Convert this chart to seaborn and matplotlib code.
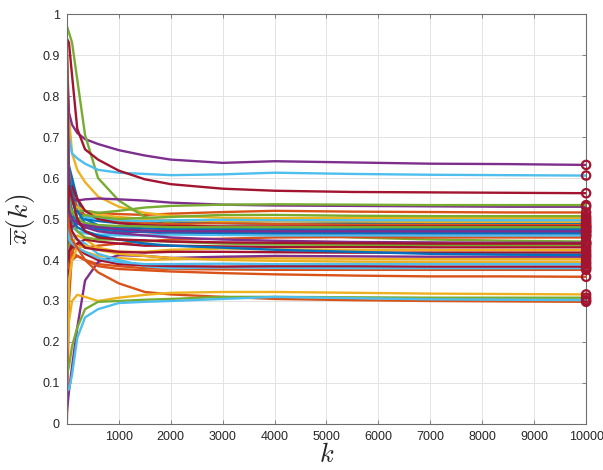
import numpy as np
import pandas as pd
import seaborn as sns
import matplotlib.pyplot as plt

k_points = [1, 40, 100, 200, 350, 600, 1000, 1500, 2000, 3000, 4000, 5500, 7000, 8500, 10000]

# one list per agent, in MATLAB colour-cycle order (blue, orange, yellow, purple, green, light blue, dark red)
agent_01 = [0.45, 0.62, 0.58, 0.52, 0.50, 0.495, 0.49, 0.488, 0.492, 0.49, 0.488, 0.49, 0.489, 0.49, 0.489]
agent_02 = [0.55, 0.58, 0.56, 0.53, 0.52, 0.515, 0.512, 0.51, 0.513, 0.517, 0.52, 0.518, 0.517, 0.516, 0.516]
agent_03 = [0.85, 0.75, 0.66, 0.62, 0.59, 0.555, 0.53, 0.515, 0.508, 0.503, 0.502, 0.503, 0.502, 0.502, 0.502]
agent_04 = [0.90, 0.76, 0.73, 0.71, 0.695, 0.683, 0.668, 0.655, 0.645, 0.637, 0.641, 0.638, 0.635, 0.634, 0.632]
agent_05 = [0.97, 0.955, 0.93, 0.84, 0.705, 0.60, 0.545, 0.505, 0.49, 0.475, 0.465, 0.455, 0.45, 0.447, 0.445]
agent_06 = [0.82, 0.70, 0.66, 0.648, 0.635, 0.62, 0.613, 0.61, 0.607, 0.609, 0.613, 0.61, 0.608, 0.607, 0.606]
agent_07 = [0.94, 0.93, 0.85, 0.72, 0.67, 0.645, 0.618, 0.597, 0.585, 0.574, 0.569, 0.566, 0.565, 0.564, 0.563]

agent_08 = [0.40, 0.63, 0.60, 0.55, 0.50, 0.485, 0.48, 0.477, 0.476, 0.478, 0.48, 0.479, 0.478, 0.478, 0.478]
agent_09 = [0.93, 0.62, 0.56, 0.52, 0.51, 0.50, 0.495, 0.49, 0.488, 0.49, 0.488, 0.486, 0.486, 0.485, 0.485]
agent_10 = [0.30, 0.45, 0.50, 0.53, 0.52, 0.51, 0.505, 0.50, 0.497, 0.495, 0.495, 0.494, 0.493, 0.493, 0.493]
agent_11 = [0.60, 0.57, 0.55, 0.545, 0.548, 0.55, 0.548, 0.545, 0.54, 0.535, 0.533, 0.532, 0.531, 0.53, 0.53]
agent_12 = [0.58, 0.56, 0.54, 0.52, 0.52, 0.515, 0.52, 0.528, 0.532, 0.535, 0.536, 0.535, 0.534, 0.534, 0.534]
agent_13 = [0.75, 0.55, 0.52, 0.50, 0.505, 0.50, 0.497, 0.495, 0.497, 0.498, 0.497, 0.497, 0.497, 0.497, 0.497]
agent_14 = [0.40, 0.55, 0.58, 0.55, 0.52, 0.50, 0.49, 0.485, 0.483, 0.482, 0.482, 0.482, 0.482, 0.482, 0.482]

agent_15 = [0.80, 0.60, 0.56, 0.50, 0.47, 0.46, 0.465, 0.47, 0.472, 0.474, 0.475, 0.474, 0.474, 0.474, 0.474]
agent_16 = [0.01, 0.30, 0.42, 0.44, 0.43, 0.435, 0.44, 0.445, 0.45, 0.452, 0.455, 0.456, 0.455, 0.455, 0.455]
agent_17 = [0.20, 0.38, 0.44, 0.46, 0.45, 0.43, 0.42, 0.42, 0.425, 0.428, 0.426, 0.425, 0.424, 0.424, 0.424]
agent_18 = [0.50, 0.48, 0.49, 0.495, 0.48, 0.475, 0.47, 0.468, 0.465, 0.462, 0.461, 0.461, 0.461, 0.461, 0.461]
agent_19 = [0.25, 0.42, 0.48, 0.50, 0.51, 0.505, 0.50, 0.503, 0.505, 0.51, 0.51, 0.508, 0.507, 0.507, 0.507]
agent_20 = [0.45, 0.50, 0.48, 0.47, 0.465, 0.462, 0.46, 0.46, 0.462, 0.461, 0.46, 0.46, 0.46, 0.46, 0.46]
agent_21 = [0.26, 0.42, 0.43, 0.44, 0.45, 0.445, 0.44, 0.435, 0.435, 0.433, 0.432, 0.432, 0.431, 0.431, 0.431]

agent_22 = [0.70, 0.55, 0.52, 0.49, 0.48, 0.475, 0.472, 0.47, 0.471, 0.47, 0.47, 0.47, 0.47, 0.47, 0.47]
agent_23 = [0.30, 0.40, 0.42, 0.41, 0.40, 0.39, 0.385, 0.38, 0.378, 0.377, 0.376, 0.376, 0.376, 0.376, 0.376]
agent_24 = [0.50, 0.46, 0.45, 0.43, 0.42, 0.41, 0.405, 0.40, 0.402, 0.405, 0.404, 0.403, 0.402, 0.402, 0.402]
agent_25 = [0.03, 0.08, 0.14, 0.235, 0.35, 0.395, 0.412, 0.41, 0.405, 0.408, 0.41, 0.409, 0.408, 0.408, 0.408]
agent_26 = [0.90, 0.55, 0.50, 0.47, 0.455, 0.45, 0.45, 0.447, 0.445, 0.44, 0.438, 0.437, 0.437, 0.437, 0.437]
agent_27 = [0.45, 0.47, 0.46, 0.45, 0.44, 0.415, 0.40, 0.385, 0.38, 0.382, 0.381, 0.38, 0.38, 0.38, 0.38]
agent_28 = [0.30, 0.42, 0.44, 0.43, 0.415, 0.40, 0.39, 0.387, 0.385, 0.384, 0.385, 0.385, 0.384, 0.384, 0.384]

agent_29 = [0.55, 0.48, 0.50, 0.52, 0.49, 0.48, 0.475, 0.47, 0.468, 0.466, 0.466, 0.466, 0.466, 0.466, 0.466]
agent_30 = [0.40, 0.38, 0.40, 0.41, 0.40, 0.385, 0.378, 0.375, 0.372, 0.368, 0.365, 0.362, 0.36, 0.36, 0.359]
agent_31 = [0.15, 0.35, 0.40, 0.43, 0.435, 0.425, 0.415, 0.41, 0.405, 0.40, 0.398, 0.396, 0.395, 0.395, 0.395]
agent_32 = [0.85, 0.50, 0.48, 0.49, 0.48, 0.47, 0.465, 0.46, 0.455, 0.45, 0.447, 0.444, 0.443, 0.442, 0.442]
agent_33 = [0.50, 0.53, 0.52, 0.50, 0.49, 0.485, 0.483, 0.482, 0.48, 0.48, 0.48, 0.48, 0.48, 0.48, 0.48]
agent_34 = [0.60, 0.45, 0.44, 0.43, 0.42, 0.405, 0.395, 0.39, 0.39, 0.391, 0.39, 0.39, 0.39, 0.39, 0.39]
agent_35 = [0.88, 0.50, 0.47, 0.45, 0.43, 0.425, 0.42, 0.418, 0.42, 0.42, 0.419, 0.418, 0.418, 0.418, 0.418]

agent_36 = [0.60, 0.52, 0.50, 0.48, 0.47, 0.46, 0.45, 0.44, 0.435, 0.43, 0.425, 0.42, 0.415, 0.413, 0.412]
agent_37 = [0.55, 0.48, 0.45, 0.43, 0.40, 0.37, 0.343, 0.322, 0.316, 0.31, 0.305, 0.302, 0.30, 0.299, 0.298]
agent_38 = [0.18, 0.25, 0.30, 0.315, 0.31, 0.30, 0.308, 0.315, 0.32, 0.322, 0.322, 0.32, 0.318, 0.317, 0.316]
agent_39 = [0.75, 0.52, 0.50, 0.49, 0.485, 0.48, 0.475, 0.472, 0.47, 0.47, 0.47, 0.47, 0.47, 0.47, 0.47]
agent_40 = [0.12, 0.14, 0.19, 0.235, 0.28, 0.298, 0.30, 0.303, 0.305, 0.31, 0.31, 0.309, 0.308, 0.308, 0.308]
agent_41 = [0.08, 0.085, 0.12, 0.21, 0.26, 0.28, 0.295, 0.298, 0.30, 0.305, 0.31, 0.307, 0.304, 0.303, 0.302]
agent_42 = [0.50, 0.58, 0.55, 0.50, 0.47, 0.455, 0.45, 0.448, 0.445, 0.443, 0.442, 0.441, 0.44, 0.44, 0.44]

agents = [agent_01, agent_02, agent_03, agent_04, agent_05, agent_06, agent_07,
          agent_08, agent_09, agent_10, agent_11, agent_12, agent_13, agent_14,
          agent_15, agent_16, agent_17, agent_18, agent_19, agent_20, agent_21,
          agent_22, agent_23, agent_24, agent_25, agent_26, agent_27, agent_28,
          agent_29, agent_30, agent_31, agent_32, agent_33, agent_34, agent_35,
          agent_36, agent_37, agent_38, agent_39, agent_40, agent_41, agent_42]

y_ticks = [0, 0.1, 0.2, 0.3, 0.4, 0.5, 0.6, 0.7, 0.8, 0.9, 1]
y_tick_labels = ['0', '0.1', '0.2', '0.3', '0.4', '0.5', '0.6', '0.7', '0.8', '0.9', '1']
x_ticks = [1000, 2000, 3000, 4000, 5000, 6000, 7000, 8000, 9000, 10000]

matlab_colors = ['#0072BD', '#D95319', '#EDB120', '#7E2F8E', '#77AC30', '#4DBEEE', '#A2142F']

rows = []
for i, vals in enumerate(agents):
    for k, v in zip(k_points, vals):
        rows.append({'k': k, 'x': v, 'agent': f'a{i:02d}'})
df = pd.DataFrame(rows)
order = [f'a{i:02d}' for i in range(len(agents))]
palette = {name: matlab_colors[i % 7] for i, name in enumerate(order)}

final = pd.DataFrame({'k': [k_points[-1]] * len(agents), 'x': [a[-1] for a in agents]})

sns.set_theme(style="white")
plt.rcParams['mathtext.fontset'] = 'cm'
plt.rcParams['font.family'] = ['Liberation Sans', 'DejaVu Sans']

fig = plt.figure(figsize=(6.03, 4.70), dpi=100)
ax = fig.add_axes([0.111, 0.098, 0.861, 0.872])

sns.lineplot(data=df, x='k', y='x', hue='agent', hue_order=order, palette=palette,
             estimator=None, sort=False, legend=False, linewidth=1.7, ax=ax)
sns.scatterplot(data=final, x='k', y='x', marker='o', s=36, facecolor='none',
                edgecolor='#A2142F', linewidth=1.6, ax=ax, clip_on=False, zorder=5)

ax.set_xlim(1, 10000)
ax.set_ylim(0, 1)
ax.set_xticks(x_ticks)
ax.set_yticks(y_ticks)
ax.set_yticklabels(y_tick_labels)
ax.grid(True, color='#e3e3e3', linewidth=0.7)
ax.set_axisbelow(True)
ax.tick_params(direction='in', length=3, width=0.6, colors='#6e6e6e',
               labelcolor='#262626', labelsize=9, top=True, right=True,
               bottom=True, left=True, pad=5)
for s in ax.spines.values():
    s.set_color('#6e6e6e')
    s.set_linewidth(0.8)

ax.set_xlabel('$k$', fontsize=19, labelpad=0)
ax.set_ylabel(r'$\overline{x}(k)$', fontsize=20, labelpad=4)

fig.savefig('out.png', dpi=100)
